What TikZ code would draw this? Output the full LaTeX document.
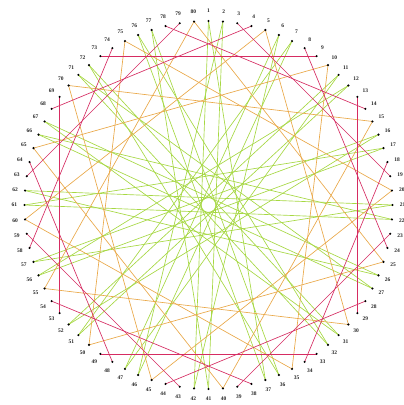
\documentclass[tikz,border=0pt]{standalone}
\usepackage{fontspec}
\setmainfont{Liberation Serif}
\usetikzlibrary{calc}
\definecolor{cred}{RGB}{214,44,98}
\definecolor{corange}{RGB}{234,168,72}
\definecolor{cgreen}{RGB}{166,216,66}
\tikzset{
  dotnode/.style={circle,fill=black,inner sep=0pt,minimum size=2.4pt},
  labnode/.style={font=\fontsize{5.5}{6}\selectfont\bfseries,inner sep=0pt,text=black!85},
  redl/.style={cred,line width=0.65pt},
  orl/.style={corange,line width=0.65pt},
  grl/.style={cgreen,line width=0.65pt}
}
\begin{document}
\begin{tikzpicture}[x=1pt,y=1pt]
\useasboundingbox (0,0) rectangle (404,405);
\fill[white] (0,0) rectangle (404,405);
\coordinate (c) at (208.5,200);
\foreach \k in {1,...,80}{
  \pgfmathsetmacro\ang{90-(\k-1)*4.5}
  \coordinate (p\k) at ($(c)+(\ang:184)$);
}
% green
\foreach \a/\b in {1/42,6/47,11/52,16/57,21/62,26/67,31/72,36/77,2/41,7/46,12/51,17/56,22/61,27/66,32/71,37/76}
  \draw[grl] (p\a) -- (p\b);
\foreach \a/\b in {2/46,7/51,12/56,17/61,22/66,27/71,32/76,37/1,42/6,47/11,52/16,57/21,62/26,67/31,72/36,77/41}
  \draw[grl] (p\a) -- (p\b);
% orange
\foreach \a/\b in {5/30,10/35,15/40,20/45,25/50,30/55,35/60,40/65,45/70,50/75,55/80,60/5,65/10,70/15,75/20,80/25}
  \draw[orl] (p\a) -- (p\b);
% red
\foreach \a/\b in {3/19,8/24,13/29,18/34,23/39,28/44,33/49,38/54,43/59,48/64,53/69,58/74,63/79,68/4,73/9,78/14}
  \draw[redl] (p\a) -- (p\b);
\foreach \k in {1,...,80}{
  \pgfmathsetmacro\ang{90-(\k-1)*4.5}
  \node[dotnode] (d\k) at (p\k) {};
  \node[labnode] (l\k) at ($(c)+(\ang:194)$) {\k};
}
\end{tikzpicture}
\end{document}
